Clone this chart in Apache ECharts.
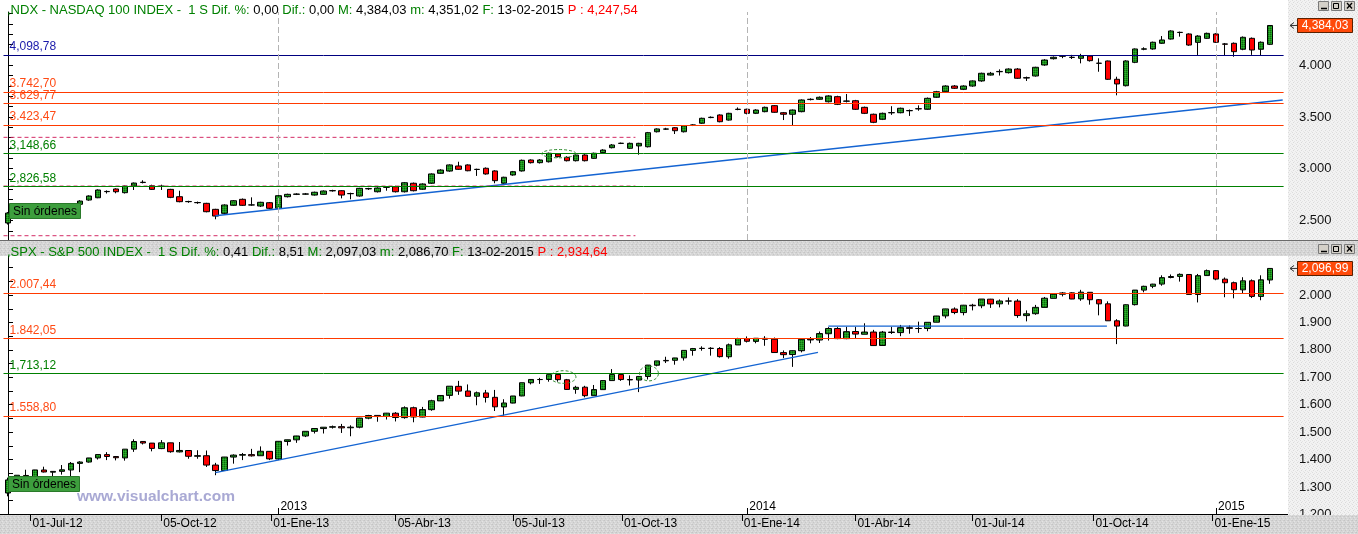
<!DOCTYPE html>
<html><head><meta charset="utf-8">
<script src="https://cdn.jsdelivr.net/npm/echarts@6/dist/echarts.min.js"></script>
<style>html,body{margin:0;padding:0;background:#fff}#c{width:1358px;height:534px}</style>
</head><body><div id="c"></div>
<script>
// ================= DATA =================
const firstWeek = [2012, 5, 8];   // first weekly bar: 08-Jun-2012 (Friday)
const weekCount = 141;            // 08-Jun-2012 .. 13-Feb-2015

// NASDAQ 100 weekly bars [open, close, low, high]
const ndxBars = [
[2475,2571,2460,2580],[2570,2590,2545,2620],[2595,2570,2540,2610],[2560,2620,2550,2625],[2625,2600,2580,2660],
[2600,2610,2570,2640],[2615,2600,2570,2660],[2600,2640,2560,2650],[2656,2687,2645,2695],[2697,2736,2690,2742],
[2719,2794,2715,2800],[2780,2778,2760,2790],[2804,2777,2762,2810],[2768,2832,2760,2836],[2832,2861,2794,2866],
[2866,2869,2858,2888],[2835,2800,2795,2845],[2828,2832,2794,2845],[2800,2723,2715,2805],[2729,2681,2675,2787],
[2683,2681,2670,2690],[2673,2671,2660,2682],[2665,2584,2578,2670],[2607,2542,2511,2612],[2568,2649,2560,2655],
[2646,2690,2640,2697],[2704,2646,2640,2712],[2650,2649,2642,2723],[2639,2675,2630,2680],[2671,2617,2610,2678],
[2617,2739,2612,2745],[2729,2752,2722,2758],[2752,2755,2745,2762],[2754,2756,2748,2765],[2745,2772,2740,2778],
[2752,2784,2748,2790],[2786,2788,2778,2796],[2787,2745,2713,2792],[2760,2758,2704,2768],[2736,2810,2730,2815],
[2805,2808,2795,2815],[2777,2813,2770,2820],[2820,2822,2787,2828],[2826,2777,2770,2835],[2777,2864,2770,2870],
[2859,2787,2780,2866],[2801,2852,2795,2858],[2859,2949,2852,2955],[2955,2987,2950,2995],[2977,3036,2970,3042],
[3026,2994,2988,3067],[3036,2980,2975,3042],[2992,2994,2930,3000],[3004,2949,2942,3012],[2978,2884,2859,2985],
[2859,2917,2852,2922],[2939,2971,2932,2978],[2978,3081,2972,3088],[3084,3058,3050,3090],[3058,3084,3050,3092],
[3067,3149,3060,3155],[3142,3116,3108,3150],[3110,3077,3070,3120],[3077,3132,3070,3138],[3132,3077,3070,3140],
[3100,3149,3095,3155],[3155,3180,3148,3188],[3203,3229,3196,3238],[3244,3246,3238,3252],[3197,3245,3190,3252],
[3220,3245,3135,3250],[3212,3348,3205,3355],[3357,3384,3350,3390],[3382,3384,3375,3395],[3396,3367,3335,3402],
[3357,3415,3350,3422],[3420,3423,3412,3430],[3439,3487,3432,3493],[3494,3497,3488,3505],[3519,3454,3448,3525],
[3470,3535,3465,3540],[3572,3575,3565,3592],[3574,3535,3525,3580],[3535,3567,3528,3575],[3551,3593,3545,3600],
[3609,3545,3540,3615],[3541,3526,3470,3548],[3526,3567,3422,3572],[3551,3664,3545,3670],[3668,3671,3660,3680],
[3671,3690,3665,3698],[3647,3703,3640,3710],[3696,3622,3615,3705],[3652,3654,3640,3722],[3657,3574,3568,3665],
[3593,3535,3528,3600],[3526,3448,3440,3532],[3477,3535,3470,3542],[3540,3542,3520,3604],[3541,3584,3535,3590],
[3560,3562,3510,3572],[3578,3580,3560,3612],[3574,3680,3568,3688],[3690,3744,3684,3752],[3744,3799,3738,3806],
[3799,3777,3770,3808],[3767,3799,3760,3806],[3799,3848,3792,3853],[3848,3922,3840,3928],[3905,3922,3900,3935],
[3937,3940,3900,3960],[3928,3963,3920,3970],[3963,3874,3868,3972],[3876,3880,3848,3890],[3896,3980,3890,3985],
[4002,4050,3995,4058],[4063,4077,4055,4085],[4087,4089,4068,4098],[4075,4077,4060,4100],[4067,4092,4018,4110],
[4089,4044,4035,4095],[4020,4018,3937,4067],[4041,3864,3858,4045],[3864,3819,3709,3889],[3802,4041,3795,4048],
[4028,4157,4020,4162],[4155,4158,4145,4173],[4157,4222,4150,4228],[4212,4244,4205,4282],[4253,4331,4248,4338],
[4316,4318,4276,4325],[4302,4195,4188,4308],[4221,4282,4099,4290],[4260,4308,4255,4315],[4302,4222,4215,4310],
[4206,4203,4098,4215],[4212,4131,4082,4220],[4154,4270,4145,4278],[4260,4147,4100,4268],[4154,4222,4098,4230],
[4202,4384.03,4195,4386]
];

// S&P 500 weekly bars [open, close, low, high]
const spxBars = [
[1278,1325.7,1266,1334],[1325,1342.8,1306,1343],[1342,1335.0,1324,1363],[1334,1362.2,1309,1362.5],[1362,1354.7,1353,1374],
[1354,1356.8,1325,1357.5],[1357,1362.7,1345,1380],[1362,1386.0,1329,1391],[1386,1391.0,1354,1394],[1391,1405.9,1389,1406],
[1406,1418.2,1400,1418.5],[1418,1411.1,1398,1427],[1411,1406.6,1397,1413],[1406,1437.9,1396,1438],[1438,1465.8,1428,1474],
[1466,1460.2,1455,1467],[1460,1440.7,1430,1460.5],[1440,1460.9,1438,1471],[1461,1428.6,1425,1461.5],[1428,1433.2,1426,1464],
[1433,1411.9,1403,1434],[1412,1414.2,1403,1434],[1414,1379.9,1373,1433],[1380,1359.9,1343,1388],[1360,1409.2,1360,1409.5],
[1409,1416.2,1385,1419],[1416,1418.1,1398,1424],[1418,1413.6,1411,1439],[1414,1430.2,1414,1448],[1430,1402.4,1398,1430.5],
[1402,1466.5,1398,1467],[1466,1472.1,1451,1472.5],[1472,1486.0,1461,1486.5],[1486,1503.0,1482,1503.5],[1503,1513.2,1495,1514],
[1513,1517.9,1495,1518.5],[1518,1519.8,1513,1524],[1520,1515.6,1497,1530],[1516,1518.2,1485,1525],[1518,1551.2,1514,1552],
[1551,1560.7,1547,1563],[1561,1556.9,1538,1561.5],[1557,1569.2,1546,1570],[1569,1553.3,1539,1573],[1553,1588.9,1549,1594],
[1589,1555.3,1536,1593],[1555,1582.2,1554,1592],[1582,1614.4,1578,1618],[1614,1633.7,1614,1635],[1634,1667.5,1622,1667.5],
[1667,1649.6,1636,1687],[1650,1630.7,1630,1674],[1631,1643.4,1598,1648],[1643,1626.7,1608,1654],[1627,1592.4,1577,1654],
[1592,1606.3,1560,1620],[1606,1631.9,1605,1632],[1632,1680.2,1631,1680.5],[1680,1692.1,1674,1693],[1692,1691.7,1676,1698],
[1692,1709.7,1684,1709.8],[1710,1691.4,1684,1710],[1691,1655.8,1654,1694],[1656,1663.5,1640,1669],[1664,1633.0,1627,1669],
[1633,1655.2,1633,1672],[1655,1688.0,1655,1689],[1688,1709.9,1688,1730],[1710,1691.8,1687,1710],[1692,1690.5,1670,1707],
[1690,1703.2,1646,1704],[1703,1744.5,1692,1745],[1744,1759.8,1740,1760],[1760,1761.6,1752,1775],[1762,1770.6,1746,1771],
[1771,1798.2,1761,1798.5],[1798,1804.8,1779,1807],[1805,1805.8,1797,1813],[1806,1805.1,1779,1810],[1805,1775.3,1772,1810],
[1775,1818.3,1768,1823],[1818,1841.4,1818,1844],[1841,1831.4,1827,1849],[1831,1842.4,1824,1843],[1842,1838.7,1815,1850],
[1839,1790.3,1790,1845],[1790,1782.6,1770,1798],[1783,1797.0,1738,1798],[1797,1838.6,1791,1841],[1839,1836.3,1824,1847],
[1836,1859.5,1825,1867],[1859,1878.0,1834,1883],[1878,1841.1,1839,1883],[1841,1866.5,1839,1884],[1867,1857.6,1840,1884],
[1857,1865.1,1857,1897],[1865,1815.7,1815,1873],[1816,1864.9,1815,1869],[1865,1863.4,1858,1884],[1863,1881.1,1850,1891],
[1881,1878.5,1859,1889],[1878,1877.9,1862,1903],[1878,1900.5,1868,1901],[1901,1923.6,1901,1924],[1924,1949.4,1915,1950],
[1949,1936.2,1930,1955],[1936,1962.9,1926,1964],[1963,1961.0,1944,1968],[1961,1985.4,1952,1985.6],[1985,1967.6,1953,1986],
[1968,1978.2,1955,1984],[1978,1978.3,1965,1991],[1978,1925.2,1917,1985],[1925,1931.6,1904,1944],[1932,1955.1,1928,1964],
[1955,1988.4,1955,1993],[1988,2003.4,1988,2005],[2003,2007.7,1995,2011],[2008,1985.5,1985,2010],[1986,2010.4,1979,2019],
[2010,1982.9,1965,2010.5],[1983,1967.9,1926,1985],[1968,1906.1,1906,1977],[1906,1886.8,1821,1912],[1887,1964.6,1886,1966],
[1965,2018.1,1962,2018.2],[2018,2031.9,2010,2034],[2032,2039.8,2025,2041],[2040,2063.5,2034,2072],[2064,2067.6,2061,2075],
[2068,2075.4,2049,2079],[2075,2002.3,2002,2076],[2002,2070.7,1973,2077],[2071,2088.8,2071,2093],[2089,2058.2,2054,2091],
[2058,2044.8,1992,2064],[2045,2019.4,1988,2049],[2019,2051.8,2004,2065],[2052,1995.0,1989,2057],[1995,2055.5,1981,2072],
[2055,2096.99,2041,2097]
];

// horizontal levels
const ndxLevels = [4098.78, 3742.70, 3629.77, 3423.47, 3148.66, 2826.58];
const spxLevels = [2007.44, 1842.05, 1713.12, 1558.80];
// trend lines [barIndex, value]
const ndxTrend = [[23.0, 2545], [141.4, 3664]];
const spxTrend = [[23.0, 1352], [89.85, 1791]];
const spxFlat  = [[91.0, 1887], [121.9, 1887]];
// dashed channel (NDX) values and bar span
const ndxChannel = [3303, 2832, 2352];
const ndxChannelSpan = [-0.5, 69.6];
// ellipses [centerIndex, centerValue, halfWidthBars, halfHeightValue]
const ndxEllipses = [[61.1, 3145, 1.9, 40]];
const spxEllipses = [[61.6, 1701, 1.4, 23], [71.1, 1714, 1.05, 27]];
// x-axis labels [barIndex, text]
const dateTicks = [[2.5,'01-Jul-12'],[17,'05-Oct-12'],[29.2,'01-Ene-13'],[43,'05-Abr-13'],[56,'05-Jul-13'],
  [68.1,'01-Oct-13'],[81.4,'01-Ene-14'],[94,'01-Abr-14'],[107,'01-Jul-14'],[120.4,'01-Oct-14'],[133.6,'01-Ene-15']];
const yearMarks = [[30,'2013'],[82,'2014'],[134,'2015']];
// y-axis ticks / labels
const ndxAxisLabels = [2500, 3000, 3500, 4000];
const ndxAxisTicks = [2400,2500,2600,2700,2800,2900,3000,3100,3200,3300,3400,3500,3600,3700,3800,3900,4000,4100,4200,4300,4400,4500];
const spxAxisLabels = [1200,1300,1400,1500,1600,1700,1800,1900,2000];
const spxAxisTicks = [1200,1250,1300,1350,1400,1450,1500,1550,1600,1650,1700,1750,1800,1850,1900,1950,2000,2050,2100];
// header texts
const ndxHeader = {name: ',NDX - NASDAQ 100 INDEX -  1 S', difPct: '0,00', dif: '0,00', max: '4,384,03', min: '4,351,02', date: '13-02-2015', p: '4,247,54'};
const spxHeader = {name: ',SPX - S&P 500 INDEX -  1 S', difPct: '0,41', dif: '8,51', max: '2,097,03', min: '2,086,70', date: '13-02-2015', p: '2,934,64'};

// ================= HELPERS / STYLE =================
const FONT = '"Liberation Sans", Arial, sans-serif';
function fmtNum(v, thou) {
  const parts = v.toFixed(2).split('.');
  return parts[0].replace(/\B(?=(\d{3})+(?!\d))/g, thou) + ',' + parts[1];
}
function fmtAxis(v) { return String(Math.round(v)).replace(/\B(?=(\d{3})+(?!\d))/g, '.'); }
function mkPattern(base, dots) {
  const c = document.createElement('canvas'); c.width = 4; c.height = 4;
  const g = c.getContext('2d'); g.fillStyle = base; g.fillRect(0, 0, 4, 4);
  dots.forEach(([x, y, col]) => { g.fillStyle = col; g.fillRect(x, y, 1, 1); });
  return {image: c, repeat: 'repeat'};
}
const greenFill = mkPattern('#1f931f', [[0,0,'#0b6e0b'],[2,0,'#0b6e0b'],[1,1,'#2fae2f'],[3,1,'#2fae2f'],[0,2,'#0b6e0b'],[2,2,'#0b6e0b'],[1,3,'#2fae2f'],[3,3,'#2fae2f']]);
const panelFill = mkPattern('#f2f2f2', [[0,0,'#dcdcdc'],[2,1,'#e4e4e4'],[1,2,'#dadada'],[3,3,'#e6e6e6']]);
const barFill = mkPattern('#d6d6d6', [[0,0,'#c4c4c4'],[2,1,'#e4e4e4'],[1,2,'#c6c6c6'],[3,3,'#e2e2e2'],[3,0,'#cccccc']]);

const levelStyle = {
  navy:  {line: '#000080', text: '#1a1aaa', thou: ','},
  red:   {line: '#ff3a00', text: '#ff4a14', thou: '.'},
  green: {line: '#008000', text: '#008000', thou: ','}
};
const ndxLevelKinds = ['navy', 'red', 'red', 'red', 'green', 'green'];
const spxLevelKinds = ['red', 'red', 'green', 'red'];

const cats = [];
(function () {
  const d0 = Date.UTC(firstWeek[0], firstWeek[1], firstWeek[2]);
  for (let i = 0; i < weekCount; i++) cats.push(new Date(d0 + i * 7 * 864e5).toISOString().slice(0, 10));
  cats.push('');
})();
const xMax = cats.length - 0.5;

function levelMarks(levels, kinds) {
  return levels.map((v, i) => {
    const s = levelStyle[kinds[i]];
    return {yAxis: v, lineStyle: {color: s.line, width: 1, type: 'solid'},
      label: {show: true, position: 'insideStartTop', formatter: fmtNum(v, s.thou), color: s.text,
        fontSize: 12, fontFamily: FONT, distance: [6, 2]}};
  });
}
function ellipseSeries(data, xi, yi) {
  return {type: 'custom', xAxisIndex: xi, yAxisIndex: yi, data: data, silent: true, z: 6, clip: true,
    renderItem: function (params, api) {
      const cx = api.value(0), cy = api.value(1), rx = api.value(2), ry = api.value(3);
      const pts = [];
      for (let k = 0; k <= 60; k++) {
        const t = k / 60 * Math.PI * 2;
        pts.push(api.coord([cx + rx * Math.cos(t), cy + ry * Math.sin(t)]));
      }
      return {type: 'polyline', shape: {points: pts}, style: {fill: 'none', stroke: '#2b8a2b', lineWidth: 1, lineDash: [3, 2]}};
    }};
}
function segSeries(data, xi, yi, color, width, dash) {
  return {type: 'line', xAxisIndex: xi, yAxisIndex: yi, data: data, symbol: 'none', silent: true, z: 4,
    lineStyle: {color: color, width: width, type: dash || 'solid'}};
}
function header(h) {
  return '{g|' + h.name + ' Dif. %:} {k|' + h.difPct + '} {g|Dif.:} {k|' + h.dif + '} {g|M:} {k|' + h.max +
    '} {g|m:} {k|' + h.min + '} {g|F:} {k|' + h.date + '} {r|P : ' + h.p + '}';
}
const headRich = {
  g: {color: '#008000', fontSize: 13, fontWeight: 'normal', fontFamily: FONT},
  k: {color: '#000000', fontSize: 13, fontWeight: 'normal', fontFamily: FONT},
  r: {color: '#ff0000', fontSize: 13, fontWeight: 'normal', fontFamily: FONT}
};
const candleStyle = {color: greenFill, color0: '#ff0000', borderColor: '#000', borderColor0: '#000', borderColorDoji: '#000', borderWidth: 1};

const ndxSeriesData = ndxBars.map(b => b.slice());
const spxSeriesData = spxBars.map(b => b.slice());

const option = {
  animation: false,
  backgroundColor: '#ffffff',
  title: [
    {text: header(ndxHeader), left: 2, top: -1, textStyle: {rich: headRich, fontSize: 13, fontWeight: 'normal'}},
    {text: header(spxHeader), left: 2, top: 241, textStyle: {rich: headRich, fontSize: 13, fontWeight: 'normal'}, z: 60}
  ],
  grid: [
    {left: 3.5, top: 12, width: 1280.1, height: 228},
    {left: 3.5, top: 256, width: 1280.1, height: 259}
  ],
  xAxis: [
    {type: 'category', gridIndex: 0, data: cats, show: false, position: 'bottom', boundaryGap: true},
    {type: 'category', gridIndex: 1, data: cats, show: false, position: 'bottom', boundaryGap: true},
    {type: 'value', gridIndex: 0, min: -0.5, max: xMax, show: false, position: 'bottom'},
    {type: 'value', gridIndex: 1, min: -0.5, max: xMax, position: 'bottom', z: 60,
      axisLine: {show: false, onZero: false}, splitLine: {show: false},
      axisTick: {show: true, customValues: dateTicks.map(d => d[0]), length: 6, lineStyle: {color: '#000'}},
      axisLabel: {show: true, customValues: dateTicks.map(d => d[0]), align: 'left', margin: 3, padding: [0, 0, 0, 2],
        fontSize: 12, color: '#000', fontFamily: FONT,
        formatter: v => { const f = dateTicks.find(d => Math.abs(d[0] - v) < 1e-6); return f ? f[1] : ''; }}},
    {type: 'value', gridIndex: 1, min: -0.5, max: xMax, position: 'bottom', z: 60,
      axisLine: {show: false, onZero: false}, splitLine: {show: false},
      axisTick: {show: true, inside: true, customValues: yearMarks.map(d => d[0]), length: 7, lineStyle: {color: '#000'}},
      axisLabel: {show: true, inside: true, customValues: yearMarks.map(d => d[0]), align: 'left', margin: 2, padding: [0, 0, 0, 2],
        fontSize: 12, color: '#000', fontFamily: FONT,
        formatter: v => { const f = yearMarks.find(d => Math.abs(d[0] - v) < 1e-6); return f ? f[1] : ''; }}}
  ],
  yAxis: [
    {type: 'value', gridIndex: 0, min: 2310.6, max: 4514.4, position: 'right', offset: 4.4, z: 1,
      axisLine: {show: true, lineStyle: {color: '#000'}}, splitLine: {show: false},
      axisTick: {show: true, customValues: ndxAxisTicks, length: 5, lineStyle: {color: '#000'}},
      axisLabel: {customValues: ndxAxisLabels, formatter: fmtAxis, margin: 11, fontSize: 13, color: '#111', fontFamily: FONT}},
    {type: 'value', gridIndex: 1, min: 1197.8, max: 2142.4, position: 'right', offset: 4.4, z: 1,
      axisLine: {show: true, lineStyle: {color: '#000'}}, splitLine: {show: false},
      axisTick: {show: true, customValues: spxAxisTicks, length: 5, lineStyle: {color: '#000'}},
      axisLabel: {customValues: spxAxisLabels, formatter: fmtAxis, margin: 11, fontSize: 13, color: '#111', fontFamily: FONT}}
  ],
  series: [
    {type: 'candlestick', name: 'NDX', xAxisIndex: 0, yAxisIndex: 0, data: ndxSeriesData, barWidth: 6, itemStyle: candleStyle, z: 3,
      markLine: {symbol: 'none', silent: true, animation: false, precision: 2,
        data: levelMarks(ndxLevels, ndxLevelKinds).concat(yearMarks.map(y => ({xAxis: y[0], lineStyle: {color: '#b4b4b4', width: 1, type: [6, 3]}, label: {show: false}})))}},
    {type: 'candlestick', name: 'SPX', xAxisIndex: 1, yAxisIndex: 1, data: spxSeriesData, barWidth: 6, itemStyle: candleStyle, z: 3,
      markLine: {symbol: 'none', silent: true, animation: false, precision: 2, data: levelMarks(spxLevels, spxLevelKinds)}},
    segSeries(ndxTrend, 2, 0, '#1464d2', 1.3),
    segSeries(spxTrend, 3, 1, '#1464d2', 1.3),
    segSeries(spxFlat, 3, 1, '#1464d2', 1.3)
  ].concat(ndxChannel.map(v => segSeries([[ndxChannelSpan[0], v], [ndxChannelSpan[1], v]], 2, 0, '#d42c66', 1, [4, 3])))
   .concat([ellipseSeries(ndxEllipses, 2, 0), ellipseSeries(spxEllipses, 3, 1)])
};

const chart = echarts.init(document.getElementById('c'), null, {width: 1358, height: 534});
chart.setOption(option);

// ---------- decoration overlays ----------
function priceBox(y, text) {
  return [
    {type: 'polyline', z: 40, shape: {points: [[1294, y - 3], [1290, y], [1294, y + 3]]}, style: {stroke: '#333', fill: 'none', lineWidth: 1}},
    {type: 'line', z: 40, shape: {x1: 1290, y1: y, x2: 1297, y2: y}, style: {stroke: '#333', lineWidth: 1}},
    {type: 'rect', z: 40, shape: {x: 1297.5, y: Math.round(y) - 6.5, width: 55, height: 14}, style: {fill: '#ff4a0a', stroke: '#5a2000', lineWidth: 1}},
    {type: 'text', z: 41, x: 1325, y: Math.round(y) + 0.5, style: {text: text, fill: '#ffffff', font: '12px ' + FONT, textAlign: 'center', textVerticalAlign: 'middle'}}
  ];
}
function winButtons(y) {
  const els = [];
  [1318, 1331, 1344].forEach((x, i) => {
    els.push({type: 'rect', z: 40, shape: {x: x + 0.5, y: y + 0.5, width: 10, height: 9}, style: {fill: '#d4d0c8', stroke: '#7a7a7a', lineWidth: 1}});
  });
  els.push({type: 'line', z: 41, shape: {x1: 1321, y1: y + 7.5, x2: 1327, y2: y + 7.5}, style: {stroke: '#000', lineWidth: 1.5}});
  els.push({type: 'rect', z: 41, shape: {x: 1333.5, y: y + 2.5, width: 5, height: 5}, style: {fill: 'none', stroke: '#000', lineWidth: 1}});
  els.push({type: 'line', z: 41, shape: {x1: 1347, y1: y + 2, x2: 1352, y2: y + 7.5}, style: {stroke: '#000', lineWidth: 1.3}});
  els.push({type: 'line', z: 41, shape: {x1: 1352, y1: y + 2, x2: 1347, y2: y + 7.5}, style: {stroke: '#000', lineWidth: 1.3}});
  return els;
}
function noOrders(x, y) {
  return [
    {type: 'rect', z: 40, shape: {x: x + 0.5, y: y + 0.5, width: 71, height: 15}, style: {fill: '#3d9e3d', stroke: '#2a7a2a', lineWidth: 1}},
    {type: 'text', z: 41, x: x + 4, y: y + 8.5, style: {text: 'Sin órdenes', fill: '#000', font: '12px ' + FONT, textVerticalAlign: 'middle'}}
  ];
}
const yNdx = chart.convertToPixel({yAxisIndex: 0}, ndxBars[ndxBars.length - 1][1]);
const ySpx = chart.convertToPixel({yAxisIndex: 1}, spxBars[spxBars.length - 1][1]);

chart.setOption({graphic: {elements: [
  {type: 'rect', z: -10, shape: {x: 1288, y: 0, width: 70, height: 240}, style: {fill: panelFill}},
  {type: 'rect', z: -10, shape: {x: 1288, y: 256, width: 70, height: 259}, style: {fill: panelFill}},
  {type: 'rect', z: 30, shape: {x: 0, y: 240.5, width: 1358, height: 15.5}, style: {fill: barFill}},
  {type: 'line', z: 31, shape: {x1: 0, y1: 240.5, x2: 1358, y2: 240.5}, style: {stroke: '#6a6a6a', lineWidth: 1}},
  {type: 'rect', z: 30, shape: {x: 0, y: 515, width: 1358, height: 19}, style: {fill: barFill}},
  {type: 'line', z: 31, shape: {x1: 0, y1: 514.5, x2: 1288, y2: 514.5}, style: {stroke: '#000', lineWidth: 1}},
  {type: 'text', z: 20, x: 77, y: 489, style: {text: 'www.visualchart.com', fill: '#a9a9d4', font: 'bold 15.5px ' + FONT}}
].concat(noOrders(9, 203), noOrders(8, 476), priceBox(yNdx, fmtNum(ndxBars[ndxBars.length - 1][1], ',')),
  priceBox(ySpx, fmtNum(spxBars[spxBars.length - 1][1], ',')), winButtons(1), winButtons(244))}});
</script>
</body></html>
